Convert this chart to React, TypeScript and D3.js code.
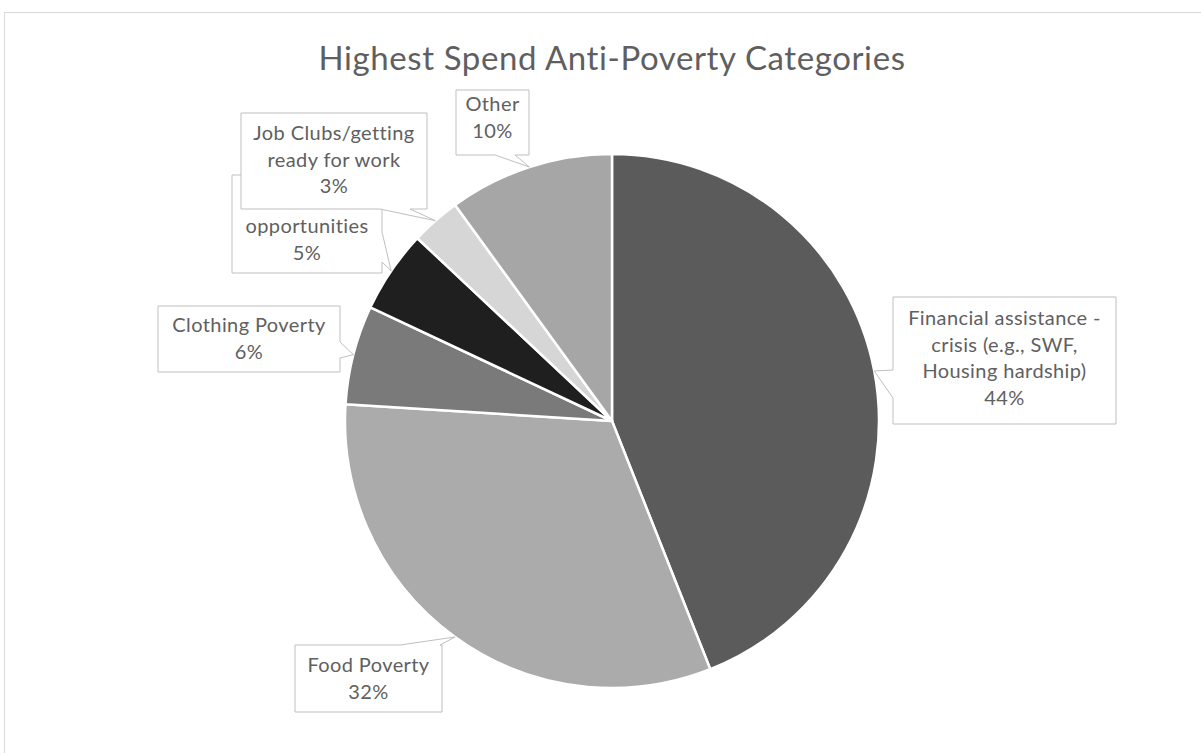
import React from "react";
import * as d3 from "d3";

const categories = [
  "Financial assistance - crisis (e.g., SWF, Housing hardship)",
  "Food Poverty",
  "Clothing Poverty",
  "opportunities",
  "Job Clubs/getting ready for work",
  "Other",
];
const values = [44, 32, 6, 5, 3, 10];
const labelLines = [
  ["Financial assistance -", "crisis (e.g., SWF,", "Housing hardship)", "44%"],
  ["Food Poverty", "32%"],
  ["Clothing Poverty", "6%"],
  ["opportunities", "5%"],
  ["Job Clubs/getting", "ready for work", "3%"],
  ["Other", "10%"],
];
const sliceColors = ["#5b5b5b", "#ababab", "#7a7a7a", "#1f1f1f", "#d6d6d6", "#a6a6a6"];

// layout of callouts: box, pointer side, base range along side, first baseline
const callouts = [
  { x: 893, y: 297, w: 223, h: 127, side: "left", b0: 370, b1: 398, base: 325 },
  { x: 295, y: 645, w: 147, h: 67, side: "top", b0: 400, b1: 440, base: 672 },
  { x: 158, y: 306, w: 182, h: 66, side: "right", b0: 342, b1: 358, base: 332 },
  { x: 232, y: 175, w: 150, h: 98, side: "right", b0: 232, b1: 262, base: 233 },
  { x: 241, y: 113, w: 186, h: 96, side: "bottom", b0: 380, b1: 410, base: 140 },
  { x: 456, y: 90, w: 73, h: 65, side: "bottom", b0: 495, b1: 515, base: 111 },
];
const drawOrder = [0, 1, 2, 3, 5, 4];

const W = 1201;
const H = 753;
const cx = 612;
const cy = 421;
const R = 267;

function calloutPath(c: any, ax: number, ay: number) {
  const { x, y, w, h, side, b0, b1 } = c;
  const r = x + w;
  const b = y + h;
  const pts: [number, number][] = [];
  pts.push([x, y]);
  if (side === "top") pts.push([b0, y], [ax, ay], [b1, y]);
  pts.push([r, y]);
  if (side === "right") pts.push([r, b0], [ax, ay], [r, b1]);
  pts.push([r, b]);
  if (side === "bottom") pts.push([b1, b], [ax, ay], [b0, b]);
  pts.push([x, b]);
  if (side === "left") pts.push([x, b1], [ax, ay], [x, b0]);
  return "M" + pts.map((p) => p.join(",")).join("L") + "Z";
}

export default function App() {
  const pie = d3.pie<number>().sort(null).value((d) => d);
  const arcs = pie(values);
  const arc = d3.arc<d3.PieArcDatum<number>>().innerRadius(0).outerRadius(R);
  const edge = d3.arc<d3.PieArcDatum<number>>().innerRadius(R).outerRadius(R);
  const font = "Lato, 'Open Sans', sans-serif";

  return (
    <svg
      width={W}
      height={H}
      style={{ position: "absolute", left: 0, top: 0, background: "#fff" }}
    >
      <rect x={0} y={0} width={W} height={H} fill="#fff" />
      <rect x={4.5} y={12.5} width={W + 20} height={H + 20} fill="#fff" stroke="#d9d9d9" />
      <text
        x={cx}
        y={70}
        textAnchor="middle"
        fontFamily={font}
        fontSize={33}
        letterSpacing={0.6}
        fill="#5f5f5f"
      >
        Highest Spend Anti-Poverty Categories
      </text>
      <g transform={`translate(${cx},${cy})`}>
        {arcs.map((a, i) => (
          <path
            key={categories[i]}
            d={arc(a) || ""}
            fill={sliceColors[i]}
            stroke="#fff"
            strokeWidth={2.5}
            strokeLinejoin="round"
          />
        ))}
      </g>
      {drawOrder.map((i) => {
        const c = callouts[i];
        const [ex, ey] = edge.centroid(arcs[i]);
        const ax = cx + ex;
        const ay = cy + ey;
        const lines = labelLines[i];
        return (
          <g key={"c" + i}>
            <path d={calloutPath(c, ax, ay)} fill="#fff" stroke="#bfbfbf" strokeWidth={1} />
            {lines.map((t, j) => (
              <text
                key={j}
                x={c.x + c.w / 2}
                y={c.base + j * 26.5}
                textAnchor="middle"
                fontFamily={font}
                fontSize={20}
                letterSpacing={0.4}
                fill="#606060"
              >
                {t}
              </text>
            ))}
          </g>
        );
      })}
    </svg>
  );
}
